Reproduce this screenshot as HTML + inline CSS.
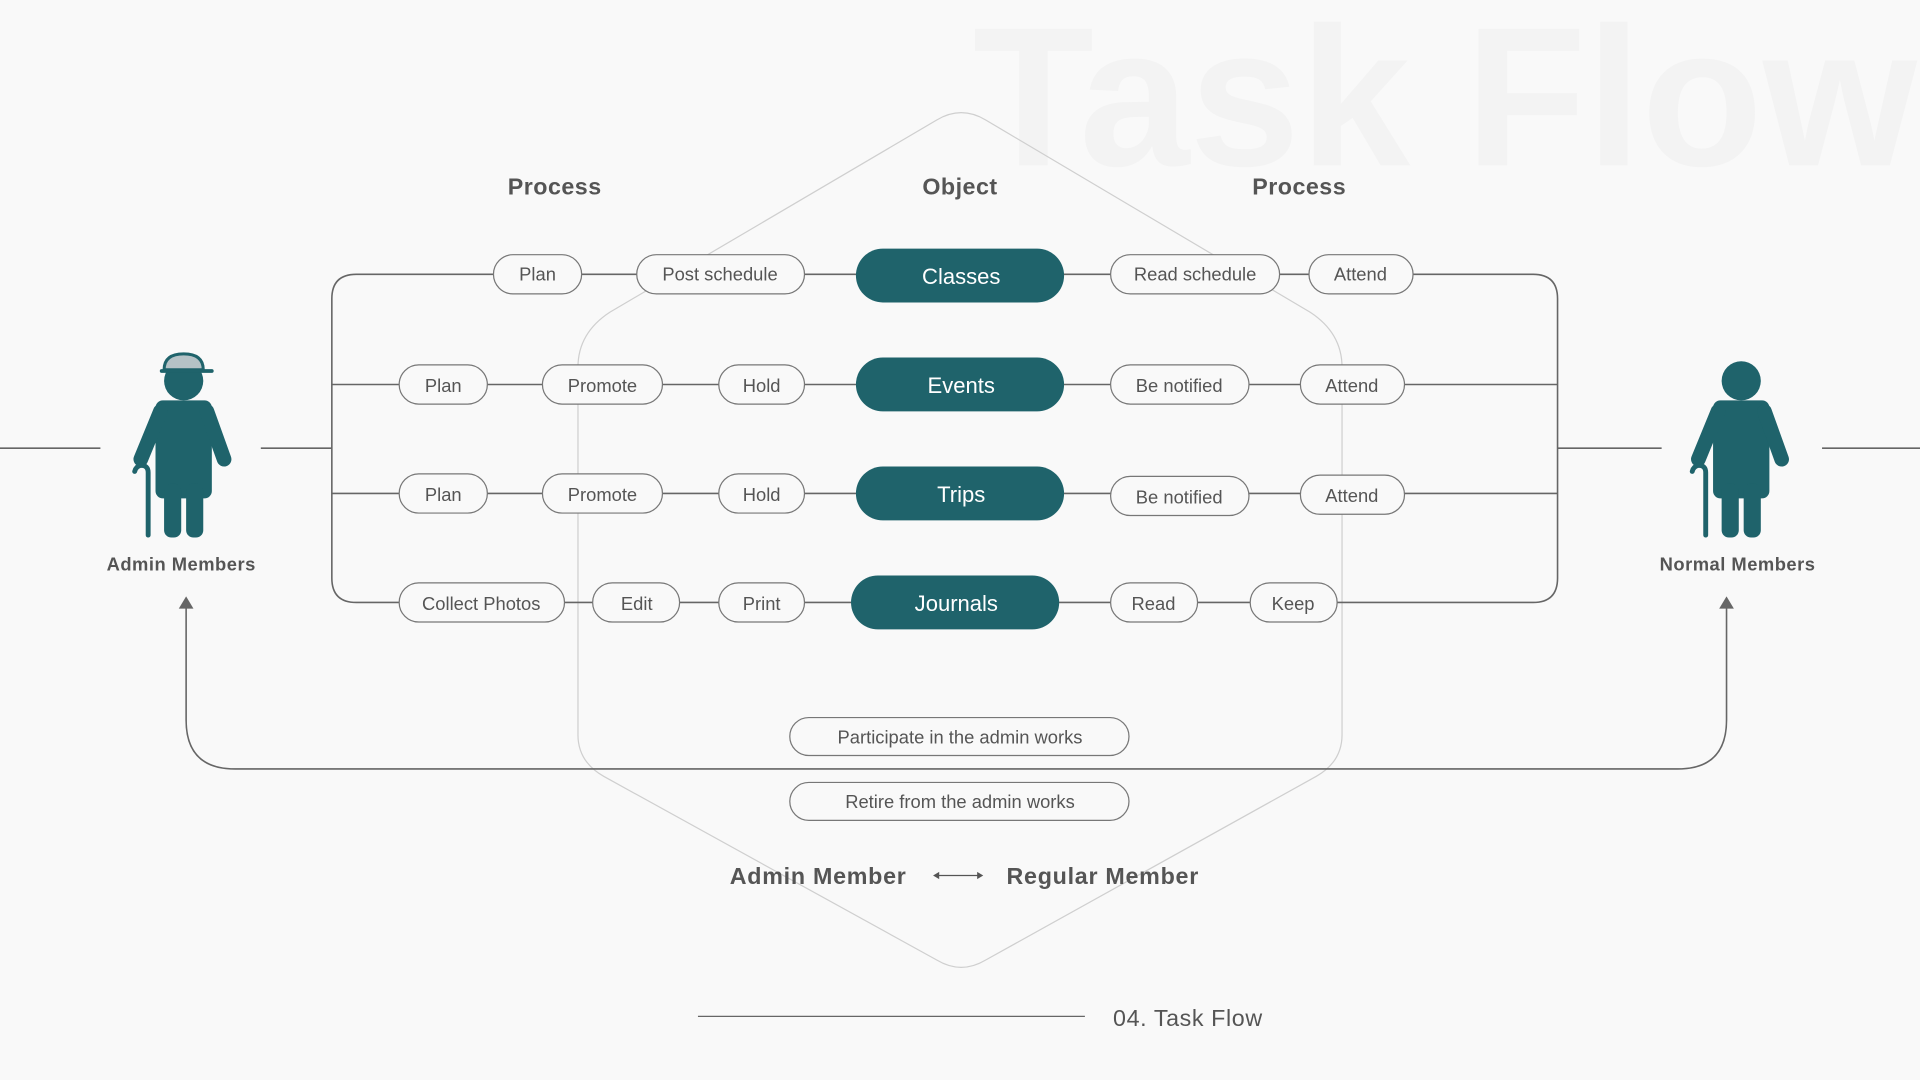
<!DOCTYPE html>
<html><head><meta charset="utf-8"><style>
html,body{margin:0;padding:0;background:#f9f9f9;}
svg{display:block;}
text{font-family:"Liberation Sans",sans-serif;}
</style></head><body>
<svg width="1920" height="1080" viewBox="0 0 1568 882" xmlns="http://www.w3.org/2000/svg">
<rect width="1568" height="882" fill="#f9f9f9"/>
<text x="1180" y="135" font-size="162" font-weight="bold" fill="#f3f3f3" text-anchor="middle">Task Flow</text>
<!-- hexagon -->
<path d="M765 98 Q785 86 805 98 L1070 255 Q1096 272 1096 300 L1096 600 Q1096 622 1075 634 L805 784 Q785 796 765 784 L493 634 Q472 622 472 600 L472 300 Q472 272 498 255 Z" fill="none" stroke="#cfcfcf" stroke-width="1"/>
<g font-size="19" font-weight="bold" fill="#555" text-anchor="middle" letter-spacing="0.4">
<text x="453" y="159">Process</text><text x="784" y="159">Object</text><text x="1061" y="159">Process</text>
</g>
<!-- rails -->
<g fill="none" stroke="#666" stroke-width="1.3">
<path d="M403 224 L291 224 Q271 224 271 244 L271 472 Q271 492 291 492 L326 492"/>
<path d="M1154 224 L1252 224 Q1272 224 1272 244 L1272 472 Q1272 492 1252 492 L1092 492"/>
<line x1="475" y1="224" x2="1069" y2="224"/>
<line x1="271" y1="314" x2="1272" y2="314"/>
<line x1="271" y1="403" x2="1272" y2="403"/>
<line x1="326" y1="492" x2="1092" y2="492"/>
<line x1="0" y1="366" x2="82" y2="366"/><line x1="213" y1="366" x2="271" y2="366"/>
<line x1="1272" y1="366" x2="1357" y2="366"/><line x1="1488" y1="366" x2="1568" y2="366"/>
<path d="M152 494 L152 588 Q152 628 192 628 L1370 628 Q1410 628 1410 588 L1410 494"/>
</g>
<polygon points="152,487 146,497 158,497" fill="#666"/>
<polygon points="1410,487 1404,497 1416,497" fill="#666"/>
<!-- pills -->
<g fill="#f9f9f9" stroke="#777" stroke-width="1">
<rect x="403" y="208" width="72" height="32" rx="16"/>
<rect x="520" y="208" width="137" height="32" rx="16"/>
<rect x="907" y="208" width="138" height="32" rx="16"/>
<rect x="1069" y="208" width="85" height="32" rx="16"/>
<rect x="326" y="298" width="72" height="32" rx="16"/>
<rect x="443" y="298" width="98" height="32" rx="16"/>
<rect x="587" y="298" width="70" height="32" rx="16"/>
<rect x="907" y="298" width="113" height="32" rx="16"/>
<rect x="1062" y="298" width="85" height="32" rx="16"/>
<rect x="326" y="387" width="72" height="32" rx="16"/>
<rect x="443" y="387" width="98" height="32" rx="16"/>
<rect x="587" y="387" width="70" height="32" rx="16"/>
<rect x="907" y="389" width="113" height="32" rx="16"/>
<rect x="1062" y="388" width="85" height="32" rx="16"/>
<rect x="326" y="476" width="135" height="32" rx="16"/>
<rect x="484" y="476" width="71" height="32" rx="16"/>
<rect x="587" y="476" width="70" height="32" rx="16"/>
<rect x="907" y="476" width="71" height="32" rx="16"/>
<rect x="1021" y="476" width="71" height="32" rx="16"/>
<rect x="645" y="586" width="277" height="31" rx="15.5"/>
<rect x="645" y="639" width="277" height="31" rx="15.5"/>
</g>
<g fill="#1f636b">
<rect x="699" y="203" width="170" height="44" rx="22"/>
<rect x="699" y="292" width="170" height="44" rx="22"/>
<rect x="699" y="381" width="170" height="44" rx="22"/>
<rect x="695" y="470" width="170" height="44" rx="22"/>
</g>
<g font-size="15" fill="#555" text-anchor="middle">
<text x="439" y="229">Plan</text><text x="588" y="229">Post schedule</text><text x="976" y="229">Read schedule</text><text x="1111" y="229">Attend</text>
<text x="362" y="320">Plan</text><text x="492" y="320">Promote</text><text x="622" y="320">Hold</text><text x="963" y="320">Be notified</text><text x="1104" y="320">Attend</text>
<text x="362" y="409">Plan</text><text x="492" y="409">Promote</text><text x="622" y="409">Hold</text><text x="963" y="411">Be notified</text><text x="1104" y="410">Attend</text>
<text x="393" y="498">Collect Photos</text><text x="520" y="498">Edit</text><text x="622" y="498">Print</text><text x="942" y="498">Read</text><text x="1056" y="498">Keep</text>
<text x="784" y="607">Participate in the admin works</text>
<text x="784" y="660">Retire from the admin works</text>
</g>
<g font-size="18" fill="#fff" text-anchor="middle">
<text x="785" y="232">Classes</text><text x="785" y="321">Events</text><text x="785" y="410">Trips</text><text x="781" y="499">Journals</text>
</g>
<g font-size="19" font-weight="bold" fill="#555" letter-spacing="0.6">
<text x="596" y="722">Admin Member</text><text x="822" y="722">Regular Member</text>
</g>
<line x1="765" y1="715" x2="800" y2="715" stroke="#555" stroke-width="1"/>
<polygon points="762,715 767,712 767,718" fill="#555"/><polygon points="803,715 798,712 798,718" fill="#555"/>
<line x1="570" y1="830" x2="886" y2="830" stroke="#666" stroke-width="1"/>
<text x="909" y="838" font-size="19" fill="#555" letter-spacing="0.5">04. Task Flow</text>
<!-- figures -->
<g id="fig" fill="#1f636b" stroke="none">
<circle cx="150" cy="311" r="16"/>
<rect x="127" y="327" width="46" height="80" rx="6"/>
<rect x="134" y="395" width="14" height="44" rx="6"/>
<rect x="152" y="395" width="14" height="44" rx="6"/>
<g stroke="#1f636b" stroke-width="12" stroke-linecap="round"><line x1="131" y1="336" x2="115" y2="375"/><line x1="169" y1="336" x2="183" y2="375"/></g>
<g stroke="#1f636b" stroke-width="4" stroke-linecap="round" fill="none"><path d="M121 437 L121 386 Q121 380 115 380 Q111 381 110 385"/></g>
</g>
<path d="M134 302 Q134 289 150 289 Q166 289 166 302 Z" fill="#b5c2c6" stroke="#1f636b" stroke-width="2.5"/>
<line x1="132" y1="303" x2="173" y2="303" stroke="#1f636b" stroke-width="3" stroke-linecap="round"/>
<use href="#fig" transform="translate(1272,0)"/>
<g font-size="15" font-weight="bold" fill="#555" text-anchor="middle" letter-spacing="0.4">
<text x="148" y="466">Admin Members</text><text x="1419" y="466">Normal Members</text>
</g>
</svg>
</body></html>
